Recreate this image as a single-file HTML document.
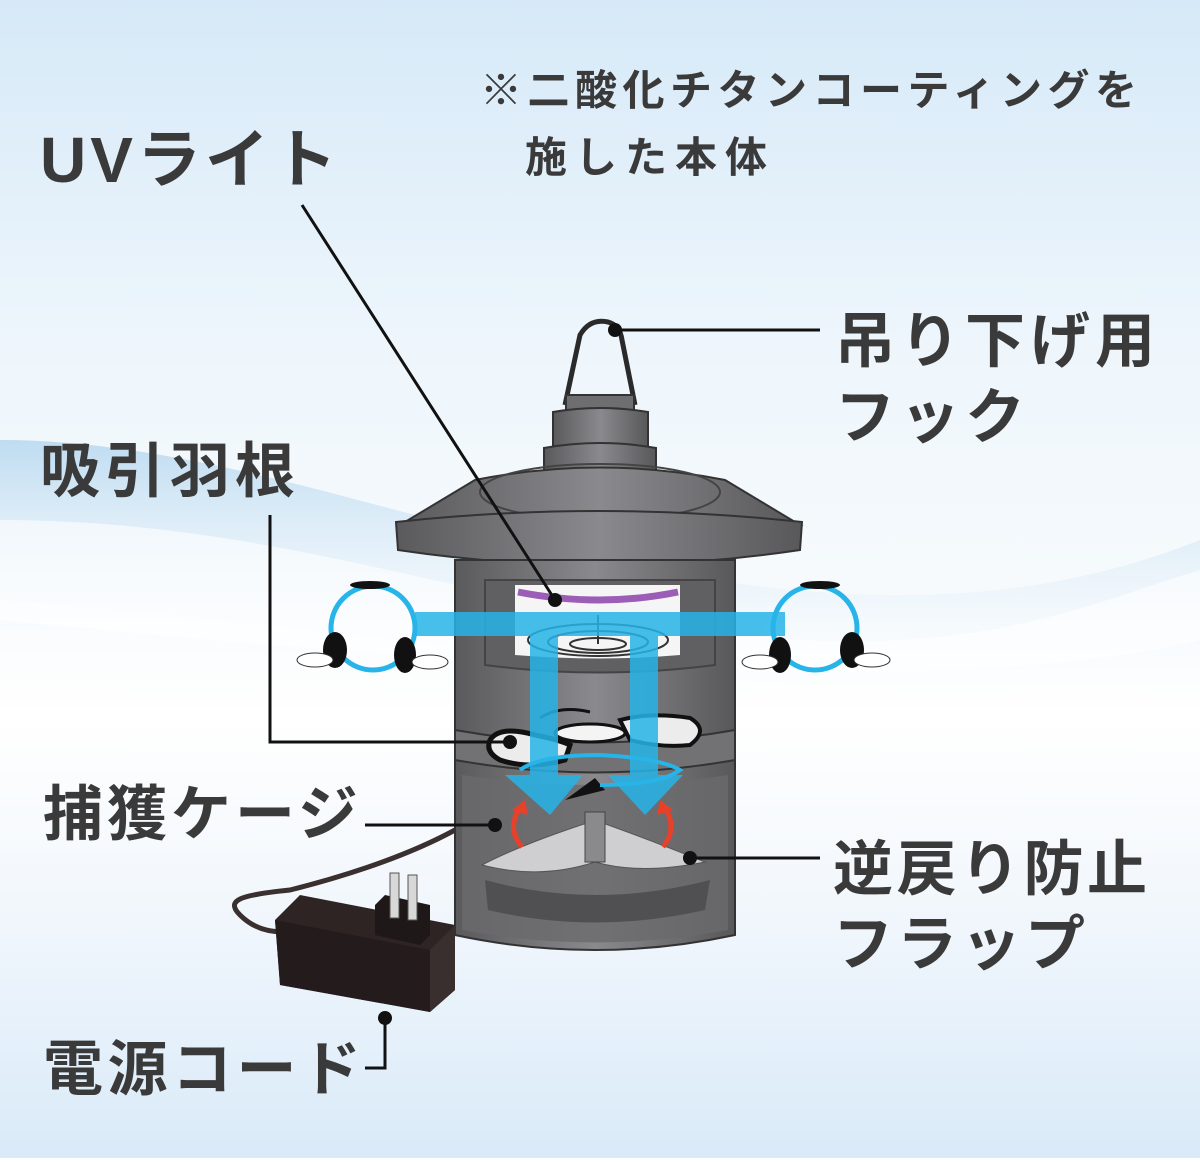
<!DOCTYPE html>
<html><head><meta charset="utf-8"><style>
html,body{margin:0;padding:0}
body{width:1200px;height:1158px;overflow:hidden}
text{font-family:"Liberation Sans","Noto Sans CJK JP",sans-serif;font-weight:bold;fill:#3a3a3a}
</style></head><body>
<svg width="1200" height="1158" viewBox="0 0 1200 1158" xmlns="http://www.w3.org/2000/svg">
<defs>
<linearGradient id="bg" x1="0" y1="0" x2="0" y2="1">
<stop offset="0" stop-color="#d6e9f8"/><stop offset="0.3" stop-color="#eef6fc"/>
<stop offset="0.5" stop-color="#f6fafd"/><stop offset="0.62" stop-color="#ffffff"/>
<stop offset="0.8" stop-color="#f0f6fc"/><stop offset="1" stop-color="#d9eaf8"/></linearGradient>
<linearGradient id="wave" x1="0" y1="0" x2="0" y2="1">
<stop offset="0" stop-color="#a9d0ec"/><stop offset="1" stop-color="#ffffff" stop-opacity="0"/></linearGradient>
<linearGradient id="metal" x1="0" y1="0" x2="1" y2="0">
<stop offset="0" stop-color="#5a5a5c"/><stop offset="0.5" stop-color="#8a8a8e"/><stop offset="1" stop-color="#58585a"/></linearGradient>
</defs>
<rect width="1200" height="1158" fill="url(#bg)"/>
<path d="M0 440 C200 440 400 520 600 560 C800 600 1000 620 1200 540 L1200 700 C900 720 500 640 0 600 Z" fill="url(#wave)" opacity="0.7"/>
<path d="M0 520 C300 520 500 620 800 640 C1000 650 1100 600 1200 570 L1200 640 C1000 690 600 680 0 620 Z" fill="#ffffff" opacity="0.6"/>

<path d="M455 830 C400 860 330 880 290 890 C240 895 225 900 240 915 C255 930 275 935 300 930" fill="none" stroke="#3a3030" stroke-width="5"/>
<path d="M275 920 L300 895 L455 925 L455 990 L430 1012 L280 985 Z" fill="#2e2424"/>
<path d="M275 920 L430 950 L430 1012 L280 985 Z" fill="#241c1c"/>
<path d="M430 950 L455 925 L455 990 L430 1012 Z" fill="#3a2f2f"/>
<path d="M375 905 L385 895 L430 905 L430 935 L420 945 L375 935 Z" fill="#1e1818"/>
<rect x="390" y="873" width="9" height="45" fill="#d8d8d8" stroke="#555"/>
<rect x="408" y="875" width="9" height="45" fill="#d8d8d8" stroke="#555"/>

<path d="M565 405 L580 335 Q590 318 608 322 Q620 325 622 340 L635 405" fill="none" stroke="#2a2a2a" stroke-width="5"/>
<rect x="566" y="395" width="68" height="20" fill="#6e6e70" stroke="#333" stroke-width="2"/>
<path d="M553 412 L553 452 Q600 462 648 452 L648 412 Q600 404 553 412Z" fill="url(#metal)" stroke="#333" stroke-width="2"/>
<path d="M544 448 L544 472 Q600 484 656 472 L656 448 Q600 438 544 448Z" fill="url(#metal)" stroke="#333" stroke-width="2"/>
<path d="M400 525 L475 480 Q600 455 725 480 L800 525 Z" fill="url(#metal)" stroke="#333" stroke-width="2"/>
<ellipse cx="600" cy="492" rx="120" ry="28" fill="none" stroke="#444" stroke-width="2"/>
<path d="M396 522 Q600 500 802 522 L800 550 Q600 580 398 550 Z" fill="url(#metal)" stroke="#333" stroke-width="2"/>

<path d="M455 560 L455 935 Q595 965 735 935 L735 560 Z" fill="url(#metal)" stroke="#333" stroke-width="2"/>
<path d="M485 580 L485 665 Q600 680 715 665 L715 580 Z" fill="#606063" stroke="#444" stroke-width="2"/>
<path d="M515 585 L515 655 Q600 662 680 655 L680 585 Z" fill="#f5f5f5"/>
<path d="M518 592 Q600 608 678 592" fill="none" stroke="#9b5db5" stroke-width="7"/>
<g fill="none" stroke="#333" stroke-width="2">
<ellipse cx="598" cy="640" rx="70" ry="16"/><ellipse cx="598" cy="642" rx="50" ry="11"/><ellipse cx="598" cy="644" rx="28" ry="6"/>
<line x1="598" y1="615" x2="598" y2="644"/></g>
<path d="M455 730 Q595 755 735 730 L735 760 Q595 785 455 760 Z" fill="#727275" stroke="#333" stroke-width="2"/>
<path d="M462 775 L462 930 Q595 955 728 930 L728 775 Q595 795 462 775Z" fill="#6a6a6d" opacity="0.8"/>
<path d="M485 880 Q595 910 710 880 L705 910 Q595 935 488 910Z" fill="#505052"/>
<path d="M482 865 Q520 845 590 822 L600 822 Q650 840 705 862 Q640 875 595 862 Q540 880 482 865Z" fill="#cfcfd1" stroke="#555"/>
<rect x="585" y="812" width="20" height="50" fill="#8a8a8d" stroke="#444"/>
<path d="M490 740 Q500 725 535 735 Q560 740 570 745 L565 760 Q530 770 500 760 Q485 752 490 740Z" fill="#ececec" stroke="#111" stroke-width="5"/>
<path d="M620 720 Q650 712 690 718 Q710 730 690 745 Q660 748 630 740Z" fill="#ececec" stroke="#111" stroke-width="4"/>
<ellipse cx="590" cy="733" rx="35" ry="9" fill="#f4f4f4" stroke="#111" stroke-width="3"/>
<path d="M540 718 Q560 705 590 712" fill="none" stroke="#111" stroke-width="3"/>
<path d="M565 800 L595 778 L605 790Z" fill="#111"/>
<g fill="#27b4e8" opacity="0.85">
<rect x="415" y="612" width="370" height="24"/>
<rect x="530" y="630" width="28" height="150"/><rect x="630" y="630" width="28" height="150"/>
<path d="M505 775 L583 775 L550 815Z"/><path d="M608 775 L683 775 L645 815Z"/>
</g>
<path d="M520 770 Q540 755 600 755 Q660 758 680 770 Q660 785 600 785" fill="none" stroke="#27b4e8" stroke-width="4"/>
<path d="M522 847 Q506 828 520 808" fill="none" stroke="#e8412a" stroke-width="5"/>
<path d="M512 810 L525 800 L528 815Z" fill="#e8412a"/>
<path d="M663 847 Q678 828 665 808" fill="none" stroke="#e8412a" stroke-width="5"/>
<path d="M673 810 L660 800 L657 815Z" fill="#e8412a"/>
<g fill="none" stroke="#27b4e8" stroke-width="5">
<circle cx="373" cy="628" r="42"/><circle cx="815" cy="628" r="42"/></g>
<g fill="#111">
<ellipse cx="335" cy="650" rx="12" ry="18"/><ellipse cx="405" cy="655" rx="11" ry="18"/><ellipse cx="370" cy="585" rx="20" ry="4"/>
<ellipse cx="780" cy="655" rx="11" ry="18"/><ellipse cx="852" cy="650" rx="12" ry="18"/><ellipse cx="820" cy="585" rx="20" ry="4"/>
</g>
<g fill="#fff" stroke="#333" stroke-width="1">
<ellipse cx="315" cy="660" rx="18" ry="7"/><ellipse cx="430" cy="662" rx="18" ry="7"/>
<ellipse cx="760" cy="662" rx="18" ry="7"/><ellipse cx="872" cy="660" rx="18" ry="7"/></g>

<g stroke="#111" stroke-width="3" fill="none">
<line x1="302" y1="205" x2="555" y2="600"/>
<line x1="615" y1="330" x2="820" y2="330"/>
<polyline points="270,515 270,742 510,742"/>
<line x1="365" y1="825" x2="495" y2="825"/>
<line x1="690" y1="858" x2="820" y2="858"/>
<polyline points="385,1018 385,1068 365,1068"/>
</g>
<g fill="#111"><circle cx="555" cy="600" r="7"/><circle cx="615" cy="330" r="7"/><circle cx="510" cy="742" r="7"/>
<circle cx="495" cy="825" r="7"/><circle cx="690" cy="858" r="7"/><circle cx="385" cy="1018" r="7"/></g>

<text x="480" y="105" font-size="42" letter-spacing="5.5">※二酸化チタンコーティングを</text>
<text x="525" y="172" font-size="42" letter-spacing="8">施した本体</text>
<text x="40" y="182" font-size="64" letter-spacing="4">UVライト</text>
<text x="835" y="362" font-size="60" letter-spacing="5">吊り下げ用</text>
<text x="835" y="438" font-size="60" letter-spacing="5">フック</text>
<text x="40" y="492" font-size="60" letter-spacing="5">吸引羽根</text>
<text x="43" y="835" font-size="60" letter-spacing="4">捕獲ケージ</text>
<text x="833" y="890" font-size="60" letter-spacing="3.5">逆戻り防止</text>
<text x="833" y="965" font-size="60" letter-spacing="4">フラップ</text>
<text x="43" y="1090" font-size="60" letter-spacing="4.5">電源コード</text>
</svg>
</body></html>
